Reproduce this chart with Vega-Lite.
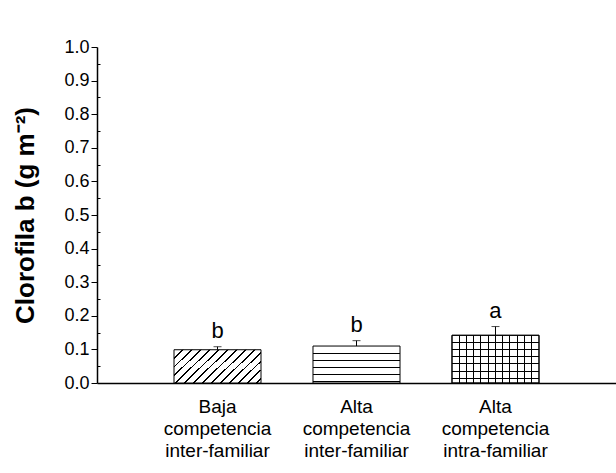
{
  "$schema": "https://vega.github.io/schema/vega-lite/v6.json",
  "width": 519,
  "height": 336,
  "autosize": {"type": "none"},
  "padding": {"left": 97, "top": 47, "right": 0, "bottom": 90},
  "background": "white",
  "config": {
    "view": {"stroke": null},
    "font": "Liberation Sans"
  },
  "data": {
    "values": [
      {"id": 1, "g": "Baja|competencia|inter-familiar", "mean": 0.099, "upper": 0.108, "letter": "b"},
      {"id": 2, "g": "Alta|competencia|inter-familiar", "mean": 0.110, "upper": 0.126, "letter": "b"},
      {"id": 3, "g": "Alta|competencia|intra-familiar", "mean": 0.142, "upper": 0.168, "letter": "a"}
    ]
  },
  "encoding": {
    "x": {
      "field": "g", "type": "nominal", "sort": null,
      "scale": {"paddingInner": 0.374, "paddingOuter": 0.554},
      "axis": {
        "title": null, "labelAngle": 0, "labelExpr": "split(datum.label, '|')",
        "labelFontSize": 19, "labelLineHeight": 22, "labelColor": "black",
        "labelFont": "Liberation Sans", "labelBaseline": "top", "labelPadding": 14,
        "ticks": false, "domainColor": "black", "domainWidth": 1.5
      }
    },
    "y": {
      "field": "mean", "type": "quantitative",
      "scale": {"domain": [0, 1], "nice": false},
      "axis": {
        "values": [0, 0.05, 0.1, 0.15, 0.2, 0.25, 0.3, 0.35, 0.4, 0.45, 0.5, 0.55, 0.6, 0.65, 0.7, 0.75, 0.8, 0.85, 0.9, 0.95, 1.0],
        "labelExpr": "round(datum.value*100) % 10 == 0 ? format(datum.value, '.1f') : ''",
        "tickSize": {"condition": {"test": "round(datum.value*100) % 10 != 0", "value": -3}, "value": 6},
        "tickColor": "black", "domainColor": "black", "domainWidth": 1.5,
        "labelFontSize": 18, "labelColor": "black", "labelFont": "Liberation Sans", "labelPadding": 2,
        "grid": false,
        "title": "Clorofila b (g m⁻²)", "titleFontSize": 26, "titleFontWeight": "bold",
        "titleColor": "black", "titleFont": "Liberation Sans", "titlePadding": 25
      }
    }
  },
  "layer": [
    {
      "transform": [{"filter": "datum.id == 1"}],
      "mark": {
        "type": "bar", "stroke": "black", "strokeWidth": 1,
        "fill": {
          "gradient": "linear", "x1": 0, "y1": 0, "x2": 1.207, "y2": 0.483,
          "stops": [
            {"offset": 0, "color": "white"},
            {"offset": 0.066, "color": "white"}, {"offset": 0.066, "color": "black"}, {"offset": 0.08, "color": "black"}, {"offset": 0.08, "color": "white"},
            {"offset": 0.14, "color": "white"}, {"offset": 0.14, "color": "black"}, {"offset": 0.154, "color": "black"}, {"offset": 0.154, "color": "white"},
            {"offset": 0.214, "color": "white"}, {"offset": 0.214, "color": "black"}, {"offset": 0.228, "color": "black"}, {"offset": 0.228, "color": "white"},
            {"offset": 0.288, "color": "white"}, {"offset": 0.288, "color": "black"}, {"offset": 0.302, "color": "black"}, {"offset": 0.302, "color": "white"},
            {"offset": 0.362, "color": "white"}, {"offset": 0.362, "color": "black"}, {"offset": 0.376, "color": "black"}, {"offset": 0.376, "color": "white"},
            {"offset": 0.436, "color": "white"}, {"offset": 0.436, "color": "black"}, {"offset": 0.45, "color": "black"}, {"offset": 0.45, "color": "white"},
            {"offset": 0.51, "color": "white"}, {"offset": 0.51, "color": "black"}, {"offset": 0.524, "color": "black"}, {"offset": 0.524, "color": "white"},
            {"offset": 0.584, "color": "white"}, {"offset": 0.584, "color": "black"}, {"offset": 0.598, "color": "black"}, {"offset": 0.598, "color": "white"},
            {"offset": 0.658, "color": "white"}, {"offset": 0.658, "color": "black"}, {"offset": 0.672, "color": "black"}, {"offset": 0.672, "color": "white"},
            {"offset": 0.732, "color": "white"}, {"offset": 0.732, "color": "black"}, {"offset": 0.746, "color": "black"}, {"offset": 0.746, "color": "white"},
            {"offset": 0.806, "color": "white"}, {"offset": 0.806, "color": "black"}, {"offset": 0.82, "color": "black"}, {"offset": 0.82, "color": "white"},
            {"offset": 0.88, "color": "white"}, {"offset": 0.88, "color": "black"}, {"offset": 0.894, "color": "black"}, {"offset": 0.894, "color": "white"},
            {"offset": 0.954, "color": "white"}, {"offset": 0.954, "color": "black"}, {"offset": 0.968, "color": "black"}, {"offset": 0.968, "color": "white"},
            {"offset": 1, "color": "white"}
          ]
        }
      }
    },
    {
      "transform": [{"filter": "datum.id == 2"}],
      "mark": {
        "type": "bar", "stroke": "black", "strokeWidth": 1,
        "fill": {
          "gradient": "linear", "x1": 0, "y1": 0, "x2": 0, "y2": 1,
          "stops": [
            {"offset": 0, "color": "white"},
            {"offset": 0.18, "color": "white"}, {"offset": 0.18, "color": "black"}, {"offset": 0.205, "color": "black"}, {"offset": 0.205, "color": "white"},
            {"offset": 0.37, "color": "white"}, {"offset": 0.37, "color": "black"}, {"offset": 0.395, "color": "black"}, {"offset": 0.395, "color": "white"},
            {"offset": 0.565, "color": "white"}, {"offset": 0.565, "color": "black"}, {"offset": 0.59, "color": "black"}, {"offset": 0.59, "color": "white"},
            {"offset": 0.755, "color": "white"}, {"offset": 0.755, "color": "black"}, {"offset": 0.78, "color": "black"}, {"offset": 0.78, "color": "white"},
            {"offset": 0.945, "color": "white"}, {"offset": 0.945, "color": "black"}, {"offset": 0.97, "color": "black"}, {"offset": 0.97, "color": "white"},
            {"offset": 1, "color": "white"}
          ]
        }
      }
    },
    {
      "transform": [{"filter": "datum.id == 3"}],
      "mark": {
        "type": "bar", "stroke": "black", "strokeWidth": 1,
        "fill": {
          "gradient": "linear", "x1": 0, "y1": 0, "x2": 1, "y2": 0,
          "stops": [
            {"offset": 0, "color": "white"},
            {"offset": 0.077, "color": "white"}, {"offset": 0.077, "color": "black"}, {"offset": 0.089, "color": "black"}, {"offset": 0.089, "color": "white"},
            {"offset": 0.16, "color": "white"}, {"offset": 0.16, "color": "black"}, {"offset": 0.172, "color": "black"}, {"offset": 0.172, "color": "white"},
            {"offset": 0.244, "color": "white"}, {"offset": 0.244, "color": "black"}, {"offset": 0.256, "color": "black"}, {"offset": 0.256, "color": "white"},
            {"offset": 0.327, "color": "white"}, {"offset": 0.327, "color": "black"}, {"offset": 0.339, "color": "black"}, {"offset": 0.339, "color": "white"},
            {"offset": 0.41, "color": "white"}, {"offset": 0.41, "color": "black"}, {"offset": 0.422, "color": "black"}, {"offset": 0.422, "color": "white"},
            {"offset": 0.494, "color": "white"}, {"offset": 0.494, "color": "black"}, {"offset": 0.506, "color": "black"}, {"offset": 0.506, "color": "white"},
            {"offset": 0.577, "color": "white"}, {"offset": 0.577, "color": "black"}, {"offset": 0.589, "color": "black"}, {"offset": 0.589, "color": "white"},
            {"offset": 0.66, "color": "white"}, {"offset": 0.66, "color": "black"}, {"offset": 0.672, "color": "black"}, {"offset": 0.672, "color": "white"},
            {"offset": 0.744, "color": "white"}, {"offset": 0.744, "color": "black"}, {"offset": 0.756, "color": "black"}, {"offset": 0.756, "color": "white"},
            {"offset": 0.827, "color": "white"}, {"offset": 0.827, "color": "black"}, {"offset": 0.839, "color": "black"}, {"offset": 0.839, "color": "white"},
            {"offset": 0.91, "color": "white"}, {"offset": 0.91, "color": "black"}, {"offset": 0.922, "color": "black"}, {"offset": 0.922, "color": "white"},
            {"offset": 1, "color": "white"}
          ]
        }
      }
    },
    {
      "transform": [{"filter": "datum.id == 3"}],
      "mark": {
        "type": "bar", "stroke": "black", "strokeWidth": 1,
        "fill": {
          "gradient": "linear", "x1": 0, "y1": 0, "x2": 0, "y2": 1,
          "stops": [
            {"offset": 0, "color": "rgba(255,255,255,0)"},
            {"offset": 0.14, "color": "rgba(255,255,255,0)"}, {"offset": 0.14, "color": "black"}, {"offset": 0.16, "color": "black"}, {"offset": 0.16, "color": "rgba(255,255,255,0)"},
            {"offset": 0.29, "color": "rgba(255,255,255,0)"}, {"offset": 0.29, "color": "black"}, {"offset": 0.31, "color": "black"}, {"offset": 0.31, "color": "rgba(255,255,255,0)"},
            {"offset": 0.44, "color": "rgba(255,255,255,0)"}, {"offset": 0.44, "color": "black"}, {"offset": 0.46, "color": "black"}, {"offset": 0.46, "color": "rgba(255,255,255,0)"},
            {"offset": 0.59, "color": "rgba(255,255,255,0)"}, {"offset": 0.59, "color": "black"}, {"offset": 0.61, "color": "black"}, {"offset": 0.61, "color": "rgba(255,255,255,0)"},
            {"offset": 0.74, "color": "rgba(255,255,255,0)"}, {"offset": 0.74, "color": "black"}, {"offset": 0.76, "color": "black"}, {"offset": 0.76, "color": "rgba(255,255,255,0)"},
            {"offset": 0.89, "color": "rgba(255,255,255,0)"}, {"offset": 0.89, "color": "black"}, {"offset": 0.91, "color": "black"}, {"offset": 0.91, "color": "rgba(255,255,255,0)"},
            {"offset": 1, "color": "rgba(255,255,255,0)"}
          ]
        }
      }
    },
    {
      "mark": {"type": "rule", "color": "black", "strokeWidth": 1},
      "encoding": {"y2": {"field": "upper"}}
    },
    {
      "mark": {"type": "tick", "color": "black", "thickness": 1, "size": 8},
      "encoding": {"y": {"field": "upper", "type": "quantitative"}}
    },
    {
      "mark": {"type": "text", "fontSize": 22, "font": "Liberation Sans", "color": "black", "baseline": "alphabetic", "dy": -9},
      "encoding": {
        "y": {"field": "upper", "type": "quantitative"},
        "text": {"field": "letter"}
      }
    }
  ]
}
